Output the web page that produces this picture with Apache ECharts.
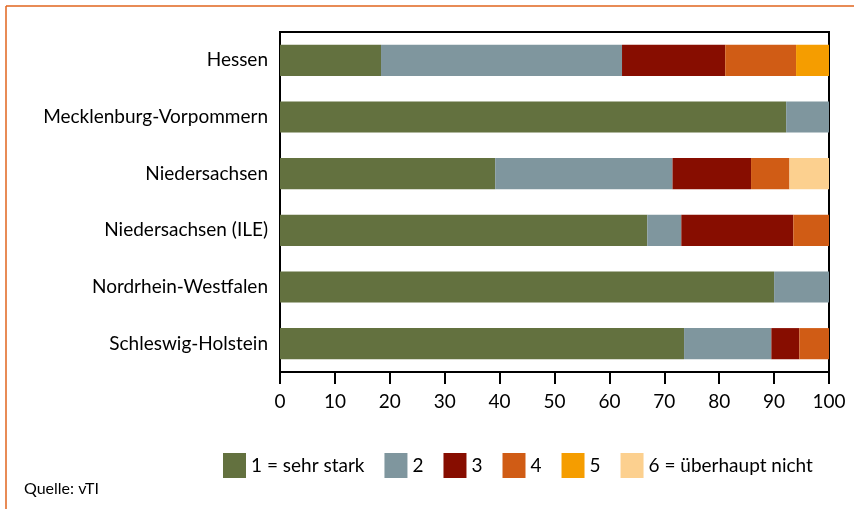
<!DOCTYPE html>
<html>
<head>
<meta charset="utf-8">
<script src="https://cdn.jsdelivr.net/npm/echarts@6/dist/echarts.min.js"></script>
<style>
  html, body { margin: 0; padding: 0; background: #fff; }
  #chart { width: 854px; height: 509px; }
</style>
</head>
<body>
<div id="chart"></div>
<script>
// Bundesländer, top to bottom as in the picture
const regions = ['Hessen', 'Mecklenburg-Vorpommern', 'Niedersachsen', 'Niedersachsen (ILE)', 'Nordrhein-Westfalen', 'Schleswig-Holstein'];
const ratingNames = ['1 = sehr stark', '2', '3', '4', '5', '6 = überhaupt nicht'];

// share (%) per rating, same order as regions
const rating1 = [18.4, 92.2, 39.2, 66.9, 90.0, 73.6];
const rating2 = [43.9, 7.8, 32.3, 6.2, 10.0, 15.9];
const rating3 = [18.8, 0, 14.3, 20.4, 0, 5.1];
const rating4 = [12.9, 0, 7.0, 6.5, 0, 5.4];
const rating5 = [6.0, 0, 0, 0, 0, 0];
const rating6 = [0, 0, 7.2, 0, 0, 0];

const colours = ['#63713f', '#7f969e', '#870d00', '#d05c15', '#f59d00', '#fcd08f'];

const font = 'Lato, "Open Sans", sans-serif';
const allRatings = [rating1, rating2, rating3, rating4, rating5, rating6];

let series = allRatings.map((vals, i) => {
    return {
        name: ratingNames[i],
        type: 'bar',
        stack: 'total',
        barWidth: '55%',
        itemStyle: { color: colours[i] },
        data: vals
    };
});

let myChart = echarts.init(document.getElementById('chart'));
myChart.setOption({
    animation: false,
    backgroundColor: '#fff',
    grid: {
        left: 280, right: 25, top: 32, bottom: 137,
        show: true, borderColor: '#000', borderWidth: 2, backgroundColor: 'transparent'
    },
    xAxis: {
        type: 'value',
        min: 0, max: 100, interval: 10,
        axisLine: { show: true, lineStyle: { color: '#000', width: 2 } },
        axisTick: { show: true, length: 12, lineStyle: { color: '#000', width: 2 } },
        splitLine: { show: false },
        axisLabel: { color: '#000', fontSize: 19, fontFamily: font, margin: 20 }
    },
    yAxis: {
        type: 'category',
        inverse: true,
        data: regions,
        axisLine: { show: false },
        axisTick: { show: false },
        axisLabel: { color: '#000', fontSize: 19, fontFamily: font, margin: 12 }
    },
    legend: {
        data: ratingNames,
        left: 218, top: 448,
        itemWidth: 23, itemHeight: 25, itemGap: 20,
        icon: 'rect',
        textStyle: { color: '#000', fontSize: 19, fontFamily: font }
    },
    graphic: [
        { type: 'line', shape: { x1: 6, y1: 6, x2: 854, y2: 6 }, style: { stroke: '#e0651e', lineWidth: 1.5 } },
        { type: 'line', shape: { x1: 6, y1: 6, x2: 6, y2: 509 }, style: { stroke: '#e0651e', lineWidth: 1.5 } },
        { type: 'text', left: 24, top: 481, style: { text: 'Quelle: vTI', fill: '#000', fontSize: 16, fontFamily: font } }
    ],
    series: series
});
</script>
</body>
</html>
